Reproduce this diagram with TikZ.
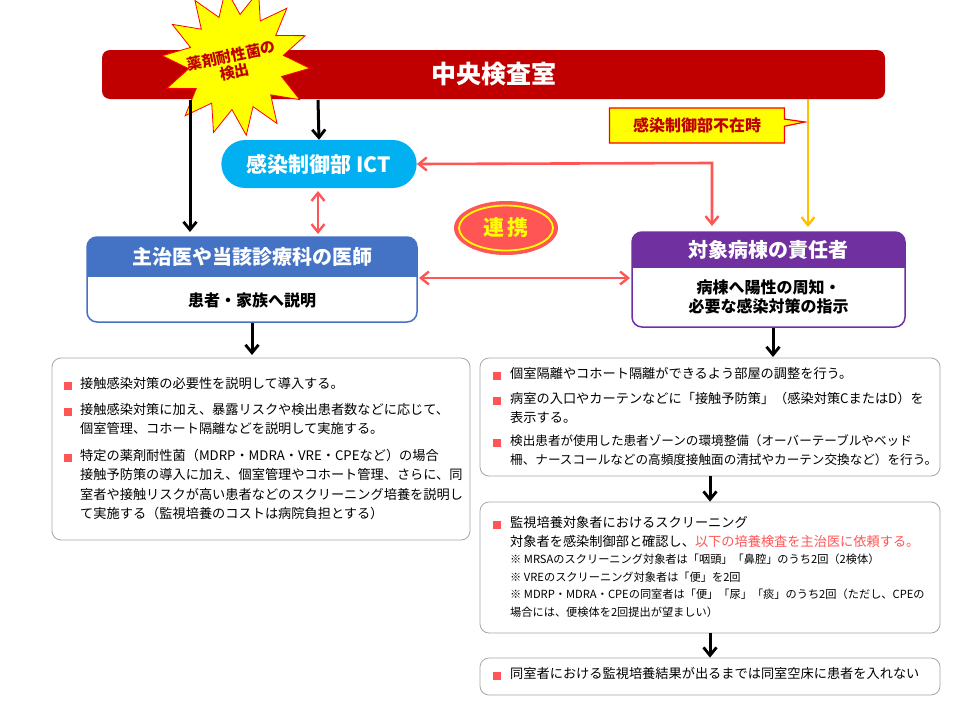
\documentclass[tikz,border=0pt]{standalone}
\usepackage{fontspec}
\setmainfont{Noto Sans CJK JP}
\usetikzlibrary{shapes.geometric,shapes.misc,shapes.callouts,arrows.meta}
\definecolor{barred}{RGB}{192,0,0}
\definecolor{ictc}{RGB}{0,176,240}
\definecolor{docb}{RGB}{68,114,196}
\definecolor{purp}{RGB}{112,48,160}
\definecolor{lred}{RGB}{255,85,85}
\definecolor{ylw}{RGB}{255,255,0}
\definecolor{gold}{RGB}{255,192,0}
\definecolor{dred}{RGB}{192,0,0}
\tikzset{
  blk/.style={line width=3pt,-{Straight Barb[length=8pt,width=13pt,line width=2.8pt]}},
  red2/.style={draw=lred,line width=2.6pt,{Straight Barb[length=8pt,width=13pt,line width=2.4pt]}-{Straight Barb[length=8pt,width=13pt,line width=2.4pt]}},
  tbox/.style={draw=gray!70,rounded corners=9pt,line width=0.8pt,fill=white},
  bul/.style={fill=lred,minimum size=7.5pt,inner sep=0pt},
  itm/.style={anchor=north west,inner sep=0pt,align=left,font=\fontsize{13.2}{19.3}\selectfont},
}
\begin{document}
\begin{tikzpicture}[x=1pt,y=-1pt]
\useasboundingbox (0,0) rectangle (960,720);
% central lab
\node[fill=barred,rounded corners=8pt,minimum width=783pt,minimum height=49pt,text=white,font=\bfseries\fontsize{25}{28}\selectfont] (lab) at (493.5,74.5) {中央検査室};
% star
\node[star,star points=14,star point ratio=1.55,fill=ylw,draw=red,line width=0.8pt,minimum size=148pt,inner sep=0pt,rotate=8] (star) at (236,62) {};
\node[text=dred,font=\bfseries\fontsize{15}{17}\selectfont,align=center,rotate=12,inner sep=0pt] (startxt) at (233,64) {薬剤耐性菌の\\検出};
% ICT
\node[fill=ictc,rounded rectangle,minimum width=202pt,minimum height=48pt,text=white,font=\bfseries\fontsize{21}{24}\selectfont] (ict) at (319,164) {感染制御部 ICT};
% doctor box
\node[draw=docb,fill=white,rounded corners=10pt,line width=1.5pt,minimum width=330pt,minimum height=85pt] (doc) at (252,279.5) {};
\begin{scope}
\clip[rounded corners=10pt] (87,237) rectangle (417,322);
\fill[docb] (87,237) rectangle (417,277);
\end{scope}
\node[text=white,font=\bfseries\fontsize{20}{22}\selectfont] (doch) at (252,257) {主治医や当該診療科の医師};
\node[font=\bfseries\fontsize{16}{18}\selectfont] (docb) at (252,300) {患者・家族へ説明};
% ward box
\node[draw=purp,fill=white,rounded corners=10pt,line width=1.5pt,minimum width=273pt,minimum height=95pt] (ward) at (768.5,279.5) {};
\begin{scope}
\clip[rounded corners=10pt] (632,232) rectangle (905,327);
\fill[purp] (632,232) rectangle (905,268);
\end{scope}
\node[text=white,font=\bfseries\fontsize{20}{22}\selectfont] (wardh) at (768.5,250) {対象病棟の責任者};
\node[font=\bfseries\fontsize{16}{19}\selectfont,align=center] (wardb) at (768.5,297) {病棟へ陽性の周知・\\必要な感染対策の指示};
% renkei
\node[ellipse,fill=lred,minimum width=104pt,minimum height=54pt] (rk) at (506,228) {};
\node[ellipse,draw=ylw,line width=1.8pt,minimum width=94pt,minimum height=45pt,text=ylw,font=\bfseries\fontsize{21}{24}\selectfont] (rkt) at (506,228) {連\,携};
% callout
\node[rectangle callout,fill=ylw,draw=red,line width=1.2pt,minimum width=175pt,minimum height=35pt,callout absolute pointer={(805,122)},text=dred,font=\bfseries\fontsize{16}{18}\selectfont] (absent) at (697,125.5) {感染制御部不在時};
% arrows from lab
\coordinate (l1) at (190,100);
\coordinate (d1) at (190,232);
\draw[blk] (l1) -- (d1);
\coordinate (l2) at (318,100);
\draw[blk] (l2) -- (ict.north);
\coordinate (l3) at (808,99);
\coordinate (w3) at (808,227);
\draw[draw=gold,line width=2.6pt,-{Straight Barb[length=8pt,width=13pt,line width=2.4pt]}] (l3) -- (w3);
% red arrows
\coordinate (rc) at (712,163);
\coordinate (wt) at (712,226);
\draw[red2] (ict.east) -- (rc) -- (wt);
\coordinate (ib) at (318,191);
\coordinate (dt) at (318,234);
\draw[red2] (ib) -- (dt);
\coordinate (dr) at (419,278);
\coordinate (wl) at (630,278);
\draw[red2] (dr) -- (wl);
% text boxes
\node[tbox,minimum width=418pt,minimum height=182pt] (lb) at (261,449) {};
\node[tbox,minimum width=460pt,minimum height=118pt] (rb1) at (710,417) {};
\node[tbox,minimum width=460pt,minimum height=131pt] (rb2) at (710,567.5) {};
\node[tbox,minimum width=460pt,minimum height=37pt] (rb3) at (710,676.5) {};
% black arrows
\coordinate (a1) at (252,323);
\coordinate (a1e) at (252,355);
\draw[blk] (a1) -- (a1e);
\coordinate (a2) at (773,328);
\coordinate (a2e) at (773,357);
\draw[blk] (a2) -- (a2e);
\draw[blk] (rb1.south) -- (rb2.north);
\draw[blk] (rb2.south) -- (rb3.north);
% left items
\node[bul] (lb1) at (68,386) {};
\node[itm] (lt1) at (80,377) {接触感染対策の必要性を説明して導入する。};
\node[bul] (lb2) at (68,412) {};
\node[itm] (lt2) at (80,403) {接触感染対策に加え、暴露リスクや検出患者数などに応じて、\\個室管理、コホート隔離などを説明して実施する。};
\node[bul] (lb3) at (68,458) {};
\node[itm] (lt3) at (80,449) {特定の薬剤耐性菌（MDRP・MDRA・VRE・CPEなど）の場合\\接触予防策の導入に加え、個室管理やコホート管理、さらに、同\\室者や接触リスクが高い患者などのスクリーニング培養を説明し\\て実施する（監視培養のコストは病院負担とする）};
% right box1
\node[bul] (rbu1) at (497,376) {};
\node[itm] (rt1) at (510,367) {個室隔離やコホート隔離ができるよう部屋の調整を行う。};
\node[bul] (rbu2) at (497,401) {};
\node[itm] (rt2) at (510,392) {病室の入口やカーテンなどに「接触予防策」（感染対策CまたはD）を\\表示する。};
\node[bul] (rbu3) at (497,443) {};
\node[itm,font=\fontsize{12.6}{19.3}\selectfont] (rt3) at (510,434) {検出患者が使用した患者ゾーンの環境整備（オーバーテーブルやベッド\\柵、ナースコールなどの高頻度接触面の清拭やカーテン交換など）を行う。};
% right box2
\node[bul] (rbu4) at (497,525) {};
\node[itm] (rt4) at (510,516) {監視培養対象者におけるスクリーニング\\対象者を感染制御部と確認し、\textcolor{lred}{以下の培養検査を主治医に依頼する。}};
\node[itm,font=\fontsize{11.2}{17.5}\selectfont] (rt5) at (510,554) {※ MRSAのスクリーニング対象者は「咽頭」「鼻腔」のうち2回（2検体）\\※ VREのスクリーニング対象者は「便」を2回\\※ MDRP・MDRA・CPEの同室者は「便」「尿」「痰」のうち2回（ただし、CPEの\\場合には、便検体を2回提出が望ましい）};
% right box3
\node[bul] (rbu6) at (497,676) {};
\node[itm] (rt6) at (510,667) {同室者における監視培養結果が出るまでは同室空床に患者を入れない};
\end{tikzpicture}
\end{document}
